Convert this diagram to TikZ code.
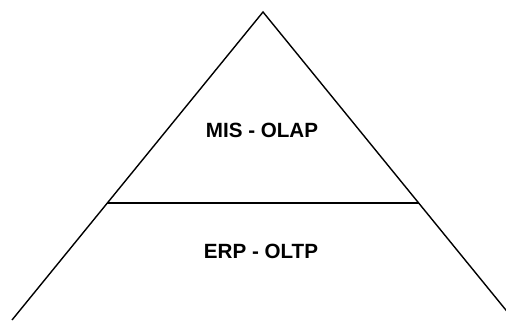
\documentclass[tikz,border=0pt]{standalone}
\usepackage{fontspec}
\setmainfont{Liberation Sans}
\usetikzlibrary{calc}

\begin{document}
\begin{tikzpicture}[x=0.5pt,y=-0.5pt,line width=0.7pt]
  \tikzset{layer/.style={font=\fontsize{10.3}{12}\selectfont\bfseries}}
  \useasboundingbox (0,0) rectangle (506,320);
  \clip (0,0) rectangle (506,320);
  \coordinate (top) at (263,12);
  \coordinate (bl) at (12,320);
  \coordinate (br) at (514,320);
  \coordinate (ml) at ($(top)!0.62!(bl)$);
  \coordinate (mr) at ($(top)!0.62!(br)$);
  \draw (bl) -- (top) -- (br);
  \draw (ml) -- (mr);
  \node[layer] (mis) at (262,130) {MIS - OLAP};
  \node[layer] (erp) at (261,251) {ERP - OLTP};
\end{tikzpicture}
\end{document}
